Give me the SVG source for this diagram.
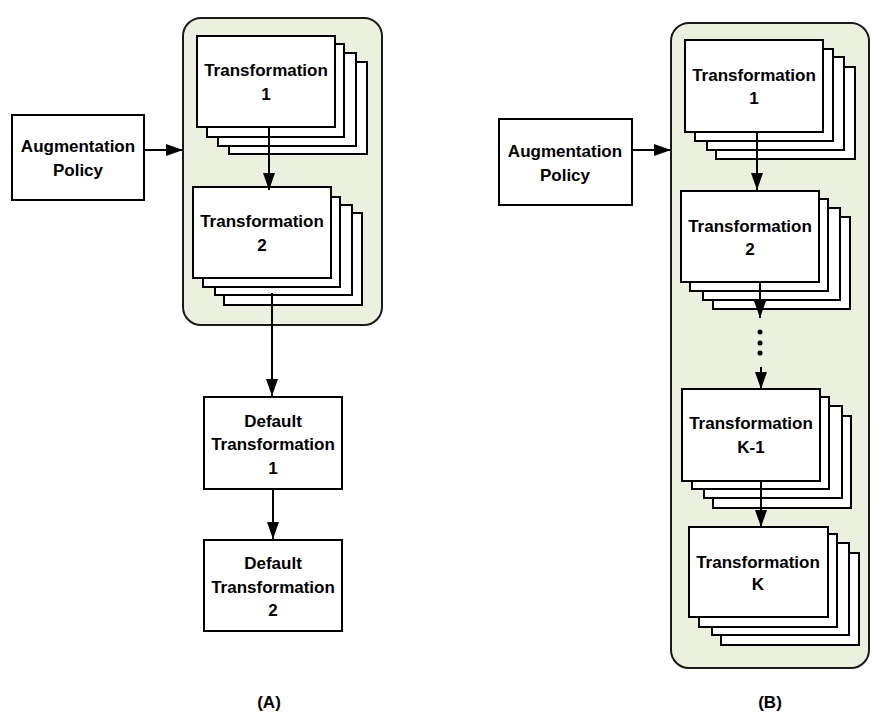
<svg xmlns="http://www.w3.org/2000/svg" width="889" height="725" viewBox="0 0 889 725">
<defs>
<style>
.bg{fill:#fff}
.box{fill:#fff;stroke:#000;stroke-width:2}
.cont{fill:#EBF1DE;stroke:#1a1a1a;stroke-width:2}
.t{font-family:"Liberation Sans",Arial,sans-serif;font-weight:bold;font-size:17px;fill:#000;text-anchor:middle}
.c{stroke:#000;stroke-width:2;fill:none}
</style>
<marker id="ah" markerUnits="userSpaceOnUse" markerWidth="17" markerHeight="12" viewBox="0 0 17 12" refX="17" refY="6" orient="auto">
<path d="M0,0 L17,6 L0,12 Z" fill="#000"/>
</marker>
</defs>
<rect class="bg" x="0" y="0" width="889" height="725"/>

<!-- Panel A -->
<g id="containerA"><rect class="cont" x="183" y="18" width="199" height="307" rx="18"/></g>
<g id="policyA">
<rect class="box" x="12" y="115" width="132" height="85"/>
<text class="t" x="78" y="152">Augmentation</text>
<text class="t" x="78" y="176">Policy</text>
</g>
<g id="transA1">
<rect class="box" x="229" y="62" width="138" height="92"/>
<rect class="box" x="218" y="53" width="138" height="93"/>
<rect class="box" x="207" y="44" width="137" height="93"/>
<rect class="box" x="197" y="36" width="138" height="91"/>
<text class="t" x="266" y="76">Transformation</text>
<text class="t" x="266" y="100">1</text>
</g>
<g id="transA2">
<rect class="box" x="224" y="213" width="138" height="92"/>
<rect class="box" x="215" y="205" width="137" height="90"/>
<rect class="box" x="203" y="197" width="137" height="90"/>
<rect class="box" x="193" y="187" width="138" height="91"/>
<text class="t" x="262" y="227">Transformation</text>
<text class="t" x="262" y="251">2</text>
</g>
<g id="defaultA1">
<rect class="box" x="204" y="397" width="138" height="92"/>
<text class="t" x="273" y="427">Default</text>
<text class="t" x="273" y="450">Transformation</text>
<text class="t" x="273" y="474">1</text>
</g>
<g id="defaultA2">
<rect class="box" x="204" y="540" width="138" height="91"/>
<text class="t" x="273" y="569">Default</text>
<text class="t" x="273" y="593">Transformation</text>
<text class="t" x="273" y="616">2</text>
</g>
<text class="t" x="269" y="708">(A)</text>

<!-- Panel B -->
<g id="containerB"><rect class="cont" x="671" y="23" width="198" height="645" rx="18"/></g>
<g id="policyB">
<rect class="box" x="499" y="119" width="133" height="86"/>
<text class="t" x="565" y="157">Augmentation</text>
<text class="t" x="565" y="181">Policy</text>
</g>
<g id="transB1">
<rect class="box" x="716" y="67" width="139" height="92"/>
<rect class="box" x="707" y="57" width="137" height="93"/>
<rect class="box" x="695" y="49" width="138" height="92"/>
<rect class="box" x="685" y="40" width="138" height="92"/>
<text class="t" x="754" y="81">Transformation</text>
<text class="t" x="754" y="104">1</text>
</g>
<g id="transB2">
<rect class="box" x="713" y="217" width="137" height="92"/>
<rect class="box" x="703" y="208" width="137" height="92"/>
<rect class="box" x="690" y="199" width="138" height="92"/>
<rect class="box" x="681" y="191" width="138" height="91"/>
<text class="t" x="750" y="232">Transformation</text>
<text class="t" x="750" y="255">2</text>
</g>
<g id="transBK1">
<rect class="box" x="713" y="416" width="138" height="92"/>
<rect class="box" x="704" y="406" width="138" height="92"/>
<rect class="box" x="692" y="397" width="137" height="92"/>
<rect class="box" x="682" y="389" width="138" height="92"/>
<text class="t" x="751" y="429">Transformation</text>
<text class="t" x="751" y="453">K-1</text>
</g>
<g id="transBK">
<rect class="box" x="721" y="553" width="138" height="92"/>
<rect class="box" x="712" y="543" width="137" height="92"/>
<rect class="box" x="699" y="534" width="138" height="93"/>
<rect class="box" x="689" y="527" width="139" height="90"/>
<text class="t" x="758" y="568">Transformation</text>
<text class="t" x="758" y="590">K</text>
</g>
<g id="dots">
<circle cx="760" cy="332" r="2.5"/>
<circle cx="760" cy="343" r="2.5"/>
<circle cx="760" cy="353" r="2.5"/>
</g>
<text class="t" x="770" y="708">(B)</text>

<g id="connectors">
<line class="c" x1="145" y1="150" x2="183" y2="150" marker-end="url(#ah)"/>
<line class="c" x1="269" y1="127" x2="269" y2="190" marker-end="url(#ah)"/>
<line class="c" x1="272" y1="293" x2="272" y2="396" marker-end="url(#ah)"/>
<line class="c" x1="273" y1="489" x2="273" y2="539" marker-end="url(#ah)"/>
<line class="c" x1="632" y1="150" x2="671" y2="150" marker-end="url(#ah)"/>
<line class="c" x1="757" y1="132" x2="757" y2="190" marker-end="url(#ah)"/>
<line class="c" x1="760" y1="282" x2="760" y2="318" marker-end="url(#ah)"/>
<line class="c" x1="761" y1="367" x2="761" y2="389" marker-end="url(#ah)"/>
<line class="c" x1="761" y1="481" x2="761" y2="527" marker-end="url(#ah)"/>
</g>
</svg>
